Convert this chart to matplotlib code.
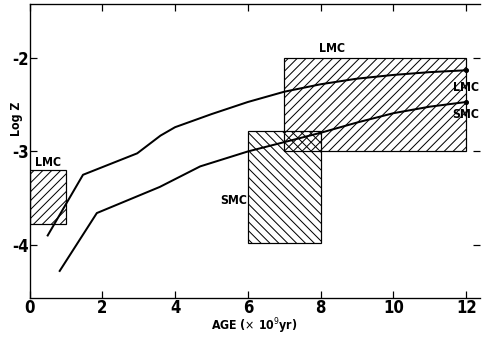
import numpy as np
import matplotlib
matplotlib.use("Agg")
import matplotlib.pyplot as plt
from matplotlib.patches import Rectangle

plt.rcParams['font.family'] = ['DejaVu Sans']
plt.rcParams['font.stretch'] = 'condensed'
plt.rcParams['hatch.linewidth'] = 0.9

# age-metallicity relations (x = age in Gyr, y = log Z)
lmc_age = [0.5, 1.47, 2.96, 3.6, 4.0, 5.0, 6.0, 7.0, 8.0, 9.0, 10.0, 11.0, 12.0]
lmc_logz = [-3.9, -3.25, -3.02, -2.83, -2.74, -2.6, -2.47, -2.36, -2.28, -2.22, -2.18, -2.15, -2.13]
smc_age = [0.83, 1.85, 3.58, 4.69, 6.0, 7.0, 8.0, 9.0, 10.0, 11.0, 12.0]
smc_logz = [-4.28, -3.66, -3.38, -3.16, -3.0, -2.9, -2.8, -2.69, -2.59, -2.52, -2.47]

# observed boxes: (x0, x1, y0, y1, hatch)
box_lmc_young = (0.0, 1.0, -3.78, -3.2, '///')
box_lmc_old = (7.0, 12.0, -3.0, -2.0, '///')
box_smc = (6.0, 8.0, -3.98, -2.78, '\\\\\\')

fig = plt.figure(figsize=(482 / 80, 337 / 80), dpi=80)
ax = fig.add_axes([29.5 / 482, 1 - 298 / 337, (480 - 29.5) / 482, (298 - 4) / 337])

for x0, x1, y0, y1, h in [box_lmc_young, box_lmc_old, box_smc]:
    ax.add_patch(Rectangle((x0, y0), x1 - x0, y1 - y0, fill=False, hatch=h,
                           edgecolor='black', lw=1.1))

ax.plot(lmc_age, lmc_logz, color='black', lw=1.8)
ax.plot(smc_age, smc_logz, color='black', lw=1.8)
ax.plot([lmc_age[-1], smc_age[-1]], [lmc_logz[-1], smc_logz[-1]], 'o', color='black', ms=3.5)

tkw = dict(fontsize=11, fontweight='bold')
ax.text(0.5, -3.12, 'LMC', ha='center', va='center', **tkw)
ax.text(8.3, -1.9, 'LMC', ha='center', va='center', **tkw)
ax.text(5.62, -3.52, 'SMC', ha='center', va='center', **tkw)
ax.text(12.0, -2.31, 'LMC', ha='center', va='center', **tkw)
ax.text(12.0, -2.6, 'SMC', ha='center', va='center', **tkw)

ax.set_xlim(0, 12.38)
ax.set_ylim(-4.57, -1.42)
ax.set_xticks([0, 2, 4, 6, 8, 10, 12])
ax.set_yticks([-2, -3, -4])
ax.set_yticklabels(['-2', '-3', '-4'])
ax.tick_params(direction='in', length=6, width=1.1, top=True, right=True,
               labelsize=15, pad=1)
for lab in ax.get_xticklabels() + ax.get_yticklabels():
    lab.set_fontweight('bold')
ax.spines['right'].set_visible(False)
for s in ['left', 'bottom', 'top']:
    ax.spines[s].set_linewidth(1.2)

ax.set_xlabel(r'AGE ($\times$ 10$^9$yr)', fontsize=11, fontweight='bold', labelpad=-1)
ax.set_ylabel('Log Z', fontsize=11, fontweight='bold', labelpad=2)
ax.yaxis.set_label_coords(-0.014, 0.61)

fig.savefig('out.png', dpi=80)
